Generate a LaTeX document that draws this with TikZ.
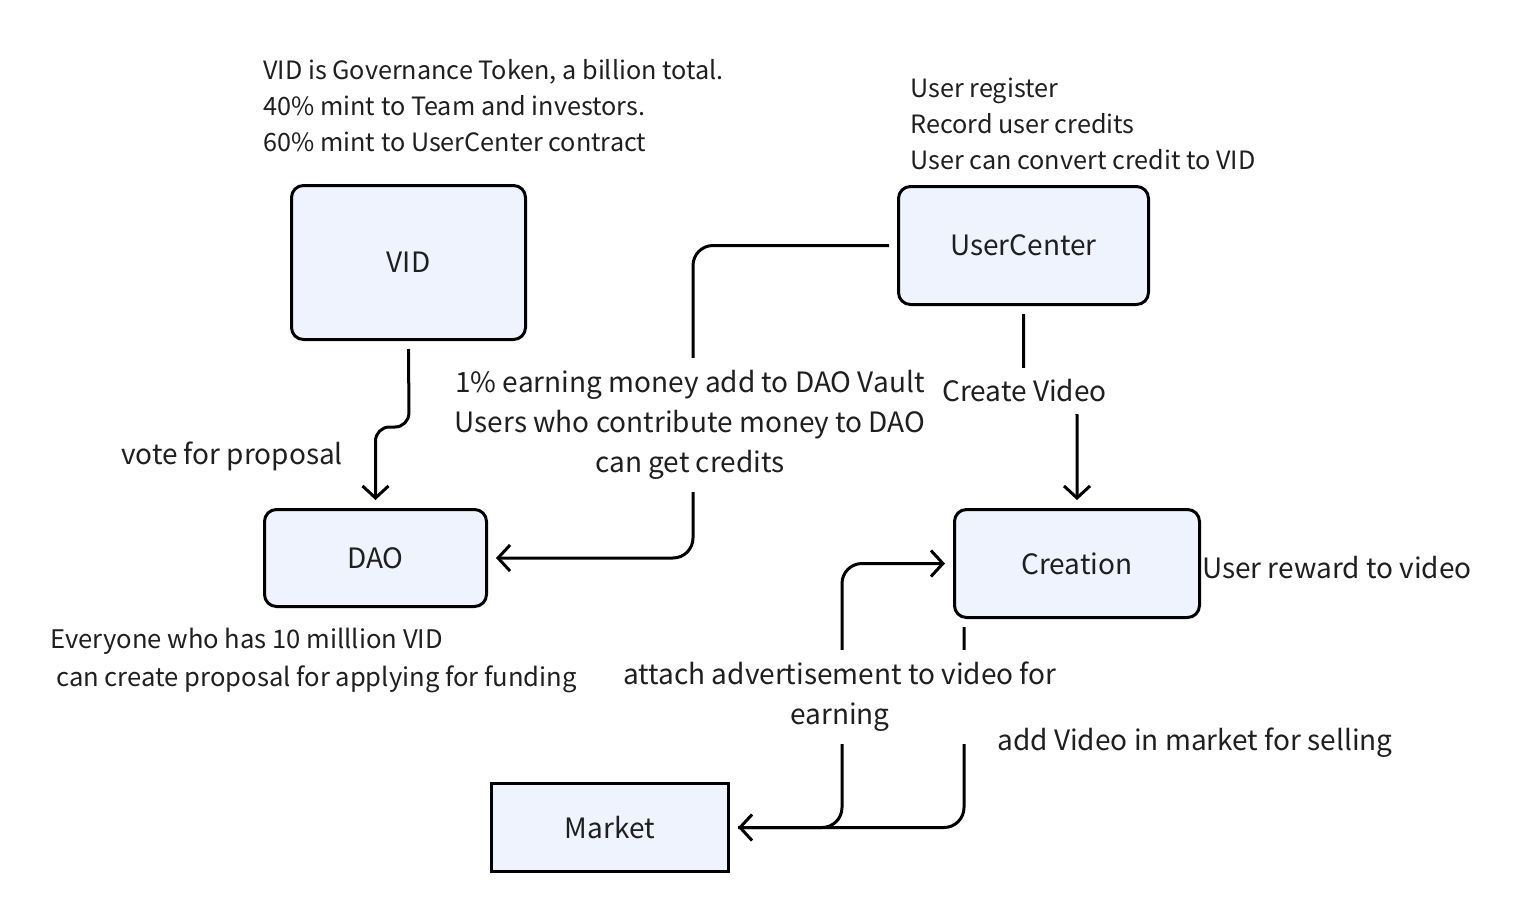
\documentclass[tikz,border=0pt]{standalone}
\usepackage{fontspec}
\setmainfont{Noto Sans CJK SC}
\usetikzlibrary{arrows.meta}
\definecolor{boxfill}{HTML}{EEF3FD}
\definecolor{ink}{HTML}{1F1F1F}
\tikzset{
  block/.style={draw=black,line width=1.5pt,fill=boxfill,rounded corners=6pt,
    text=ink,font=\fontsize{14}{16}\selectfont},
  link/.style={line width=1.5pt,rounded corners=10pt,shorten <=4pt,shorten >=4pt,
    -{Straight Barb[length=6pt,width=13pt,line width=1.5pt]}},
  note/.style={align=left,text=ink,inner sep=0pt,font=\fontsize{12.6}{18}\selectfont},
  tag/.style={align=center,text=ink,font=\fontsize{14}{20}\selectfont},
  cover/.style={tag,fill=white,inner sep=6pt}
}
\begin{document}
\begin{tikzpicture}[x=0.5pt,y=-0.5pt]
\useasboundingbox (0,0) rectangle (1520,920);
            % Contracts
\node[block,minimum width=117pt,minimum height=77pt] (vid) at (408.5,262.5) {VID};
\node[block,minimum width=125pt,minimum height=59pt] (uc) at (1023.5,245.5) {UserCenter};
\node[block,minimum width=111pt,minimum height=48.5pt] (dao) at (375.5,558) {DAO};
\node[block,minimum width=122.5pt,minimum height=54pt] (cr) at (1077,563.5) {Creation};
\node[block,sharp corners,minimum width=118.5pt,minimum height=44pt] (mk) at (610,827.5) {Market};
%Notes
\node[note,anchor=west] (vidnote) at (263,106) {VID is Governance Token, a billion total.\\40\% mint to Team and investors.\\60\% mint to UserCenter contract};
\node[note,anchor=west] (ucnote) at (910,124) {User register\\Record user credits\\User can convert credit to VID};
\node[note,anchor=west,font=\fontsize{12.8}{19}\selectfont] (daonote) at (50,661) {Everyone who has 10 milllion VID\\\hspace{3pt}can create proposal for applying for funding};
%Connections
\draw[link,rounded corners=7pt] (vid.south) -- (409,427) -- (375.5,427) -- (dao.north);
\draw[link] (uc.west) -- (693,245.5) -- (693,558) -- (dao.east);
\draw[link] (uc.south) -- (1023.5,395) -- (1077,395) -- (cr.north);
\draw[link] (mk.east) -- (842,827.5) -- (842,563.5) -- (cr.west);
\draw[link] ([xshift=5.5pt]cr.south west) -- (964,827.5) -- (mk.east);
%Labels
\node[tag] (vote) at (232,456) {vote for proposal};
\node[cover] (vault) at (690,425) {1\% earning money add to DAO Vault\\Users who contribute money to DAO\\can get credits};
\node[cover] (create) at (1024.5,391) {Create Video};
\node[cover] (ads) at (840,697) {attach advertisement to video for\\earning};
\node[tag] (sell) at (1195,743) {add Video in market for selling};
\node[tag,anchor=west] (reward) at (1195,568) {User reward to video};
\end{tikzpicture}
\end{document}
